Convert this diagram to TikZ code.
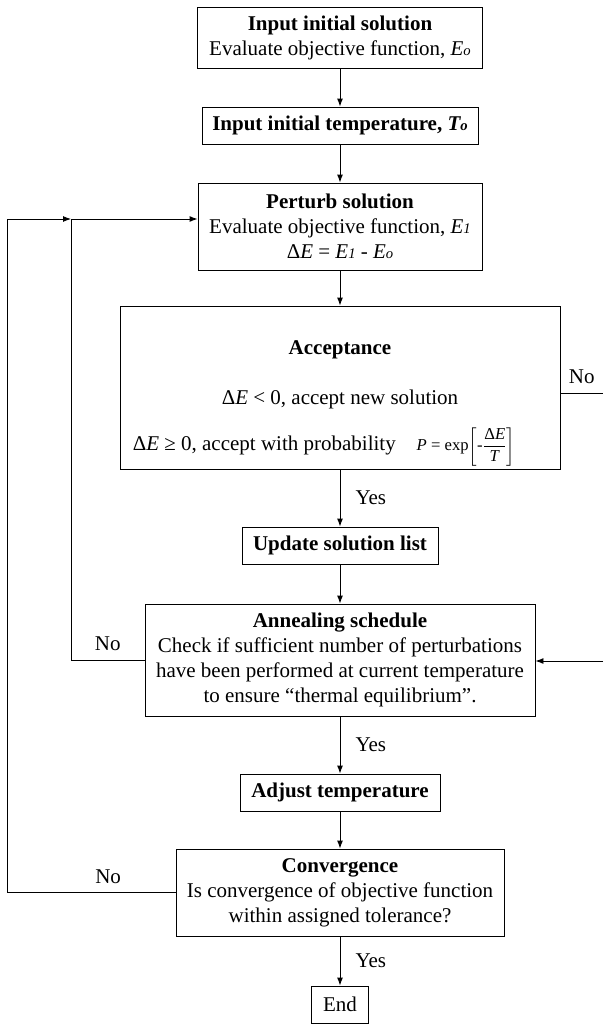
\documentclass[tikz,border=0pt]{standalone}
\usepackage{amsmath}
\usepackage[no-math]{fontspec}
\setmainfont{Liberation Serif}
\usetikzlibrary{arrows.meta, positioning}

\newcommand{\sublow}[1]{{\fontsize{11}{11}\selectfont #1}}
\newcommand{\dE}{Δ\textit{E}}

\begin{document}
\begin{tikzpicture}[x=0.75pt, y=-0.75pt,
  font=\fontsize{15.75}{18.75}\selectfont,
  box/.style={draw, line width=0.7pt, align=center, inner sep=2pt},
  flow/.style={->, line width=0.7pt},
  >={Latex[length=6pt, width=4.5pt]}]
  \useasboundingbox (0,0) rectangle (603,1024);

  \node[box, minimum width=213.75pt, minimum height=45.75pt] (init) at (340, 37.5) {\textbf{Input initial solution}\\Evaluate objective function, \textit{E\sublow{o}}};
  \node[box, minimum width=207pt, minimum height=27.75pt] (temp) at (340, 125.5) {\textbf{Input initial temperature, \textit{T\sublow{o}}}};
  \node[box, minimum width=213pt, minimum height=65.25pt] (perturb) at (340, 226.5) {\textbf{Perturb solution}\\Evaluate objective function, \textit{E\sublow{1}}\\\dE{} = \textit{E\sublow{1}} - \textit{E\sublow{o}}};
  \node[box, minimum width=330pt, minimum height=122.25pt] (accept) at (340, 387.5) {\rule{0pt}{34pt}\textbf{Acceptance}\\[18.75pt]
    \dE{} < 0, accept new solution\\[13pt]
    \dE{} ≥ 0, accept with probability\quad{\fontsize{12.5}{14}\selectfont\textit{P} = exp$\left[\text{-}\dfrac{\text{\dE}}{\text{\textit{T}}}\right]$}\hspace*{24pt}};
  \node[box, minimum width=147pt, minimum height=27.75pt] (update) at (340, 545.5) {\textbf{Update solution list}};
  \node[box, minimum width=292.5pt, minimum height=84pt] (anneal) at (340, 660) {\textbf{Annealing schedule}\\Check if sufficient number of perturbations\\have been performed at current temperature\\to ensure ``thermal equilibrium''.};
  \node[box, minimum width=150pt, minimum height=27.75pt] (adjust) at (340, 792.5) {\textbf{Adjust temperature}};
  \node[box, minimum width=246pt, minimum height=65.25pt] (conv) at (340, 892.5) {\textbf{Convergence}\\Is convergence of objective function\\within assigned tolerance?};
  \node[box, minimum width=42.75pt, minimum height=27.75pt] (end) at (340, 1004.5) {End};

  \coordinate (rightNo) at (603, 393);
  \coordinate (rightIn) at (603, 661);
  \coordinate (loopIn) at (71, 219);
  \coordinate (loopOut) at (7, 219);

  \draw[flow] (init) -- (temp);
  \draw[flow] (temp) -- (perturb);
  \draw[flow] (perturb) -- (accept);
  \draw[flow] (accept) -- node[right=8pt] {Yes} (update);
  \draw[flow] (update) -- (anneal);
  \draw[flow] (anneal) -- node[right=8pt] {Yes} (adjust);
  \draw[flow] (adjust) -- (conv);
  \draw[flow] (conv) -- node[right=8pt] {Yes} (end);

  \draw[line width=0.7pt] (accept.east |- rightNo) -- node[above=3pt] {No} (rightNo);
  \draw[flow] (rightIn) -- (anneal.east |- rightIn);
  \draw[flow] (anneal.west) -| node[pos=0.25, above=3pt] {No} (loopIn) -- (perturb.west |- loopIn);
  \draw[flow] (conv.west) -| node[pos=0.2, above=3pt] {No} (loopOut) -- (loopIn);
\end{tikzpicture}
\end{document}
